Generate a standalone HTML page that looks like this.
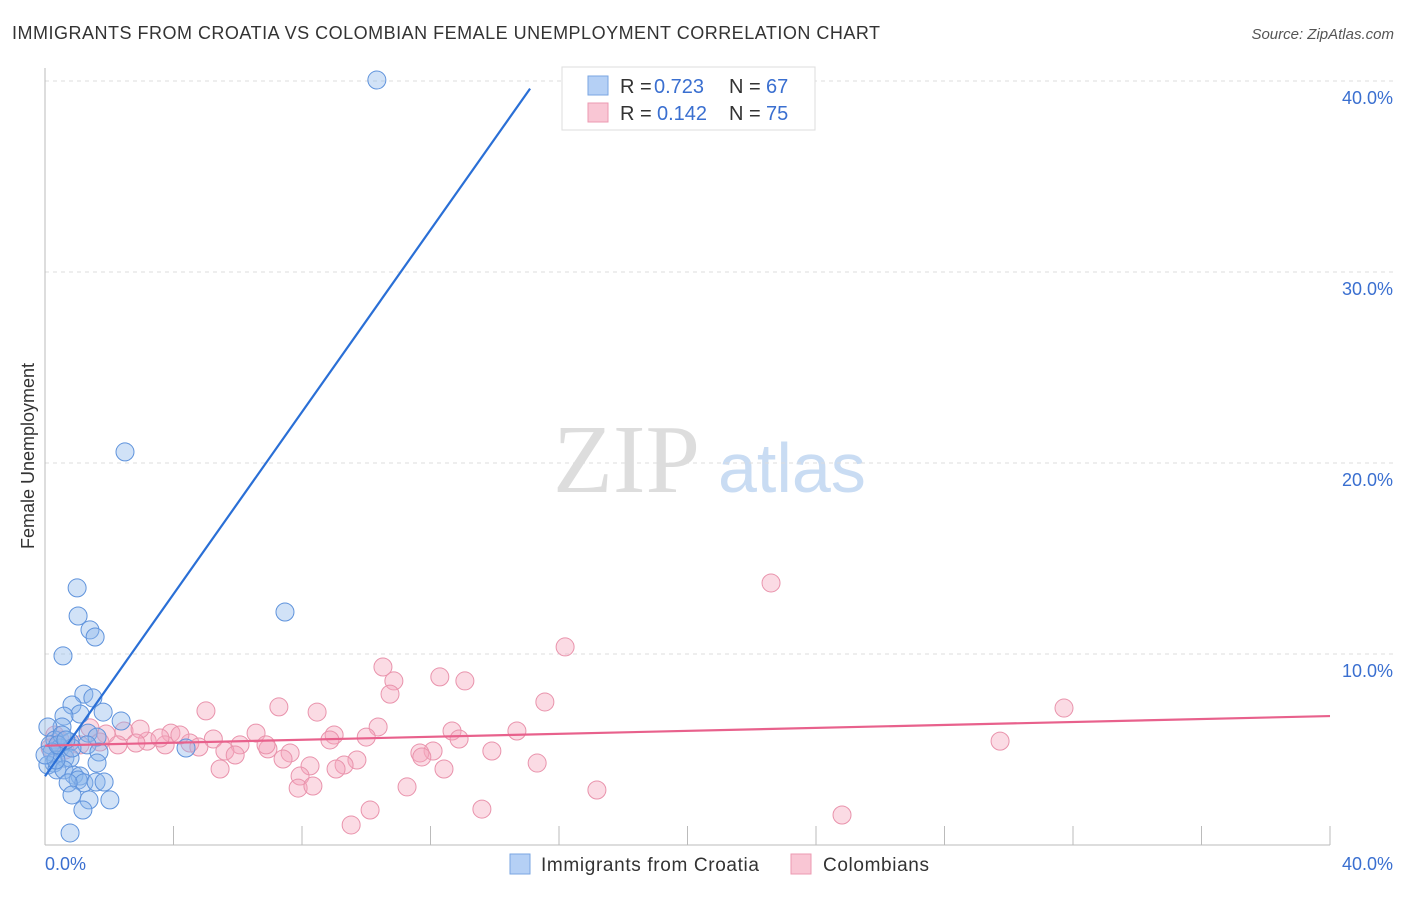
<!DOCTYPE html>
<html><head><meta charset="utf-8"><style>
body{margin:0;background:#fff;font-family:"Liberation Sans",sans-serif;}
</style></head><body>
<svg width="1406" height="892" xmlns="http://www.w3.org/2000/svg" font-family="Liberation Sans, sans-serif">
<text x="12" y="39" font-size="18" fill="#333" textLength="868">IMMIGRANTS FROM CROATIA VS COLOMBIAN FEMALE UNEMPLOYMENT CORRELATION CHART</text>
<text x="1394" y="39" font-size="15" fill="#555" font-style="italic" text-anchor="end">Source: ZipAtlas.com</text>
<text x="553" y="492" font-size="98" fill="#ddd" style="font-family:'Liberation Serif',serif">ZIP</text>
<text x="718" y="492" font-size="70" fill="#c9dcf3">atlas</text>
<g id="grid"></g>
<g id="axes"></g>
<text transform="translate(34,456) rotate(-90)" font-size="18" fill="#333" text-anchor="middle">Female Unemployment</text>
<g id="pts"></g>
<g id="lines"></g>
<g>
<rect x="562" y="67" width="253" height="63" fill="#fff" stroke="#ddd"/>
<rect x="588" y="76" width="20" height="19" fill="#b5d0f5" stroke="#7aa6e2"/>
<rect x="588" y="103" width="20" height="19" fill="#f9c6d4" stroke="#ec9ab2"/>
<text x="620" y="93" font-size="20" fill="#333">R =</text>
<text x="654" y="93" font-size="20" fill="#3a6fd0">0.723</text>
<text x="729" y="93" font-size="20" fill="#333">N =</text>
<text x="766" y="93" font-size="20" fill="#3a6fd0">67</text>
<text x="620" y="120" font-size="20" fill="#333">R =</text>
<text x="657" y="120" font-size="20" fill="#3a6fd0">0.142</text>
<text x="729" y="120" font-size="20" fill="#333">N =</text>
<text x="766" y="120" font-size="20" fill="#3a6fd0">75</text>
</g>
<g>
<rect x="510" y="854" width="20" height="20" fill="#b5d0f5" stroke="#7aa6e2"/>
<text x="541" y="871" font-size="19" fill="#333" textLength="218">Immigrants from Croatia</text>
<rect x="791" y="854" width="20" height="20" fill="#f9c6d4" stroke="#ec9ab2"/>
<text x="823" y="871" font-size="19" fill="#333" textLength="106">Colombians</text>
</g>
</svg>
<script>
const yTicks=[10,20,30,40];
const yTickLabels=["10.0%","20.0%","30.0%","40.0%"];
const xTickLabels=["0.0%","40.0%"];
const blueX=[10.33,2.49,1.0,1.03,1.4,1.56,0.56,7.47,1.21,0.84,1.49,1.81,1.09,0.59,2.37,0.53,0.09,1.34,1.62,0.31,0.78,0.16,0.47,0.22,1.31,4.39,1.68,0.62,0.28,0.78,1.62,0.09,0.37,0.59,0.9,1.09,1.03,1.21,1.59,1.84,0.72,0.84,1.37,2.02,1.18,0.78,0.34,0.53,0.84,0,0.4,0.65];
const blueY=[40.05,20.58,13.46,11.99,11.26,10.89,9.9,12.2,7.9,7.33,7.7,6.96,6.86,6.75,6.49,6.18,6.18,5.86,5.65,5.5,5.39,5.24,5.08,4.87,5.24,5.08,4.87,4.55,4.29,4.55,4.29,4.19,3.93,3.93,3.66,3.61,3.4,3.25,3.3,3.3,3.25,2.62,2.36,2.36,1.83,0.63,4.45,5.76,5.08,4.71,5.24,5.5];
const pinkX=[22.6,16.19,10.52,12.29,13.07,10.86,10.74,15.56,31.72,5.01,7.28,8.47,10.37,12.67,14.69,12.89,9.0,10.0,6.57,3.92,5.24,2.46,3.18,3.74,4.51,6.07,6.94,7.63,5.6,5.92,4.79,29.73,12.08,11.67,13.91,11.73,7.41,9.71,9.31,15.32,5.45,8.25,9.06,12.42,7.94,7.88,8.34,11.27,17.18,13.6,10.12,9.53,24.81,2.96,1.9,2.27,2.83,1.71,1.09,0.47,0.62,0.31,1.4,3.58,4.2,6.88,8.87,0.16];
const pinkY=[13.72,10.37,9.32,8.8,8.59,8.59,7.9,7.49,7.17,7.02,7.23,6.96,6.18,5.97,5.97,5.55,5.76,5.65,5.86,5.86,5.55,5.97,5.44,5.24,5.34,5.24,5.03,4.82,4.92,4.71,5.13,5.44,4.92,4.82,4.92,4.61,4.5,4.45,4.19,4.29,3.98,4.14,3.98,3.98,3.61,2.98,3.09,3.04,2.88,1.88,1.83,1.05,1.57,6.07,5.81,5.24,5.34,5.39,5.24,5.5,4.97,5.76,6.13,5.6,5.76,5.24,5.5,5.08];
const blueLine=[[0,3.6],[15.1,39.6]];
const pinkLine=[[0,5.2],[40,6.75]];
const NS="http://www.w3.org/2000/svg";
const X=v=>45+v*32.125, Y=v=>845-v*19.1;
function mk(t,a,p){const e=document.createElementNS(NS,t);for(const k in a)e.setAttribute(k,a[k]);p.appendChild(e);return e;}
const grid=document.getElementById('grid'),axes=document.getElementById('axes');
yTicks.forEach((t,i)=>{
 const l=mk('line',{x1:45,x2:1394,y1:Y(t),y2:Y(t),stroke:'#ddd','stroke-dasharray':'4,4'},grid);
 
 
 const tx=mk('text',{x:1393,y:Y(t)+23,'font-size':18,fill:'#3a6fd0','text-anchor':'end'},grid);
 tx.textContent=yTickLabels[i];
 
 
});
mk('line',{x1:45,x2:45,y1:68,y2:845,stroke:'#bbb'},axes);
mk('line',{x1:45,x2:1330,y1:845,y2:845,stroke:'#bbb'},axes);
for(let i=0;i<=10;i++){const t=mk('line',{x1:X(i*4),x2:X(i*4),y1:826,y2:845,stroke:'#bbb'},axes);
 
 }
[[45,'start',0],[1393,'end',1]].forEach(([x,a,i])=>{const t=mk('text',{x:x,y:870,'font-size':18,fill:'#3a6fd0','text-anchor':a},axes);t.textContent=xTickLabels[i];
 
 });
const pts=document.getElementById('pts');
pinkX.forEach((v,i)=>{const c=mk('circle',{cx:X(v),cy:Y(pinkY[i]),r:9,fill:'rgba(245,165,188,0.4)',stroke:'#e993ac','stroke-width':1},pts);
 
 });
blueX.forEach((v,i)=>{const c=mk('circle',{cx:X(v),cy:Y(blueY[i]),r:9,fill:'rgba(140,182,236,0.4)',stroke:'#5f93dc','stroke-width':1},pts);
 
 });
const lines=document.getElementById('lines');
const bl=mk('line',{x1:X(blueLine[0][0]),y1:Y(blueLine[0][1]),x2:X(blueLine[1][0]),y2:Y(blueLine[1][1]),stroke:'#2a6fd6','stroke-width':2.2},lines);


const pl=mk('line',{x1:X(pinkLine[0][0]),y1:Y(pinkLine[0][1]),x2:X(pinkLine[1][0]),y2:Y(pinkLine[1][1]),stroke:'#e8618c','stroke-width':2.2},lines);


</script>
</body></html>
